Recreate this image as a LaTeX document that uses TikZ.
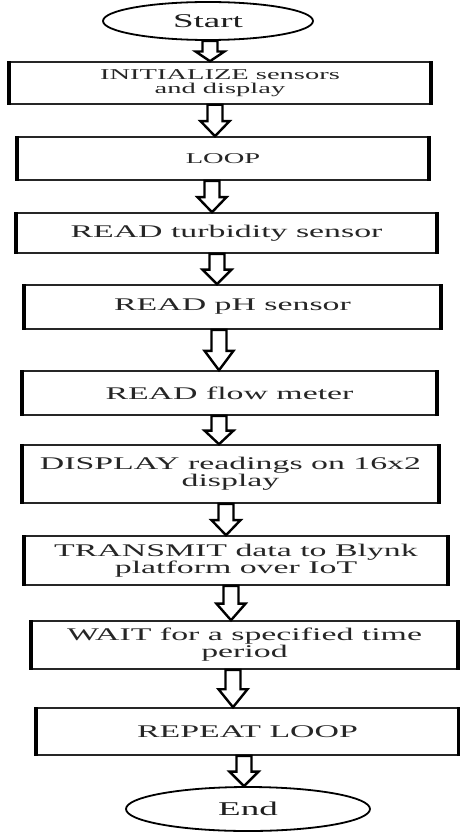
\documentclass[tikz,border=0pt]{standalone}
\usepackage{fontspec}
\setmainfont[FakeStretch=1.9]{Liberation Serif}
\usetikzlibrary{shapes.geometric,calc}
\tikzset{
  procbox/.style={draw=black!85, line width=1.6pt, fill=white, rectangle, inner sep=0pt, align=center, text=black!85},
  termnode/.style={draw=black, line width=1.8pt, fill=white, ellipse, inner sep=0pt, text=black!88},
  smalltxt/.style={font=\fontsize{15}{13.5}\selectfont},
  bigtxt/.style={font=\fontsize{17.8}{15.5}\selectfont},
  termtxt/.style={font=\fontsize{19.5}{20}\selectfont},
  blockarrow/.style={draw=black, line width=2.4pt, fill=white, line join=miter,
    to path={let \p1=(\tikztostart), \p2=(\tikztotarget), \n1={0.48*(\y1-\y2)} in
      (\x1-7.5pt,\y1) -- (\x1-7.5pt,\y2+\n1*1pt) -- (\x1-14.5pt,\y2+\n1*1pt) -- (\x1,\y2)
      -- (\x1+14.5pt,\y2+\n1*1pt) -- (\x1+7.5pt,\y2+\n1*1pt) -- (\x1+7.5pt,\y1) -- cycle}},
  sideline/.style={line width=4.5pt, black}
}
\begin{document}
\begin{tikzpicture}[x=1pt,y=-1pt]
\useasboundingbox[fill=white] (0,0) rectangle (459,832);

\node[termnode, termtxt, minimum width=210pt, minimum height=38pt] (start) at (208,21) {Start};
\node[procbox, smalltxt, minimum width=420pt, minimum height=42pt] (b1) at (220,83) {INITIALIZE sensors\\and display};
\node[procbox, smalltxt, minimum width=410pt, minimum height=43pt] (b2) at (223,158.5) {LOOP};
\node[procbox, bigtxt, minimum width=419pt, minimum height=40pt] (b3) at (226.5,233) {READ turbidity sensor};
\node[procbox, bigtxt, minimum width=415pt, minimum height=44pt] (b4) at (232.5,307) {READ pH sensor};
\node[procbox, bigtxt, minimum width=413pt, minimum height=44pt] (b5) at (229.5,393) {READ flow meter};
\node[procbox, bigtxt, minimum width=415pt, minimum height=58pt] (b6) at (230.5,474) {DISPLAY readings on 16x2\\display};
\node[procbox, bigtxt, minimum width=422pt, minimum height=49pt] (b7) at (236,560.5) {TRANSMIT data to Blynk\\platform over IoT};
\node[procbox, bigtxt, minimum width=425pt, minimum height=48pt] (b8) at (244.5,645) {WAIT for a specified time\\period};
\node[procbox, bigtxt, minimum width=421pt, minimum height=47pt] (b9) at (247.5,731.5) {REPEAT LOOP};
\node[termnode, termtxt, minimum width=244pt, minimum height=44pt] (end) at (248,809) {End};

\foreach \n in {b1,b2,b3,b4,b5,b6,b7,b8,b9}
  \draw[sideline] (\n.north west) -- (\n.south west) (\n.north east) -- (\n.south east);

\draw[blockarrow] ([xshift=2pt]start.south) to (b1.north);
\draw[blockarrow] ([xshift=-5pt]b1.south) to (b2.north);
\draw[blockarrow] ([xshift=-11pt]b2.south) to (b3.north);
\draw[blockarrow] ([xshift=-9.5pt]b3.south) to (b4.north);
\draw[blockarrow] ([xshift=-13.5pt]b4.south) to (b5.north);
\draw[blockarrow] ([xshift=-10.5pt]b5.south) to (b6.north);
\draw[blockarrow] ([xshift=-4.5pt]b6.south) to (b7.north);
\draw[blockarrow] ([xshift=-5pt]b7.south) to (b8.north);
\draw[blockarrow] ([xshift=-11.5pt]b8.south) to (b9.north);
\draw[blockarrow] ([xshift=-3.5pt]b9.south) to (end.north);
\end{tikzpicture}
\end{document}
